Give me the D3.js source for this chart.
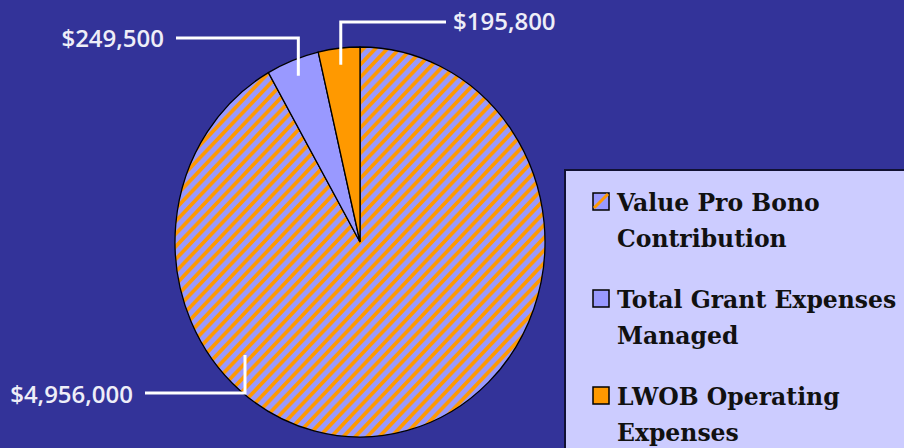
<!DOCTYPE html>
<html>
<head>
<meta charset="utf-8">
<script src="https://cdn.jsdelivr.net/npm/d3@7"></script>
<style>
  html, body { margin: 0; padding: 0; background: #333399; }
  svg { display: block; }
</style>
</head>
<body>
<div id="chart"></div>
<script>
// chart data
var categories = ["Value Pro Bono Contribution", "Total Grant Expenses Managed", "LWOB Operating Expenses"];
var legendLines = [["Value Pro Bono", "Contribution"], ["Total Grant Expenses", "Managed"], ["LWOB Operating", "Expenses"]];
var values = [4956000, 249500, 195800];
var valueLabels = ["$4,956,000", "$249,500", "$195,800"];

var width = 904, height = 448;
var cx = 360, cy = 242, r = 185, yScale = 195 / 185;

var svg = d3.select("#chart").append("svg")
    .attr("width", width)
    .attr("height", height);

svg.append("rect").attr("width", width).attr("height", height).attr("fill", "#333399");

// diagonal hatch used for the big slice
var hp = 12;
var defs = svg.append("defs");
var pat = defs.append("pattern")
    .attr("id", "hatch")
    .attr("patternUnits", "userSpaceOnUse")
    .attr("width", hp).attr("height", hp);
pat.append("rect").attr("width", hp).attr("height", hp).attr("fill", "#9999ff");
pat.append("path")
    .attr("d", "M-3,3 L3,-3 M0," + hp + " L" + hp + ",0 M" + (hp - 3) + "," + (hp + 3) + " L" + (hp + 3) + "," + (hp - 3))
    .attr("stroke", "#ff9900")
    .attr("stroke-width", 3.6);

var fills = ["url(#hatch)", "#9999ff", "#ff9900"];

var pie = d3.pie().sort(null).value(function (d) { return d; });
var arcs = pie(values);
var arc = d3.arc().innerRadius(0).outerRadius(r);

var g = svg.append("g")
    .attr("transform", "translate(" + cx + "," + cy + ") scale(1," + yScale + ")");

g.selectAll("path.slice")
  .data(arcs)
  .enter()
  .append("path")
    .attr("class", "slice")
    .attr("d", arc)
    .attr("fill", function (d, i) { return fills[i]; })
    .attr("stroke", "#000")
    .attr("stroke-width", 1.3)
    .attr("vector-effect", "non-scaling-stroke");

// label leader layout (angle override for the big slice, where Excel moved it)
var labelLayout = [
  {angle: 227 * Math.PI / 180, rf: 0.85, elbowY: 393, endX: 145, anchor: "end", tx: 133, ty: 403},
  {angle: null, rf: 0.915, elbowY: 38, endX: 176, anchor: "end", tx: 164, ty: 47},
  {angle: null, rf: 0.915, elbowY: 22, endX: 446, anchor: "start", tx: 453, ty: 30}
];

arcs.forEach(function (d, i) {
  var L = labelLayout[i];
  var a = L.angle != null ? L.angle : (d.startAngle + d.endAngle) / 2;
  var px = cx + Math.sin(a) * r * L.rf;
  var py = cy - Math.cos(a) * r * L.rf * yScale;
  svg.append("path")
      .attr("d", "M" + px + "," + py + " L" + px + "," + L.elbowY + " L" + L.endX + "," + L.elbowY)
      .attr("fill", "none")
      .attr("stroke", "#ffffff")
      .attr("stroke-width", 3);
  svg.append("text")
      .attr("x", L.tx)
      .attr("y", L.ty)
      .attr("text-anchor", L.anchor)
      .attr("fill", "#eeeef8")
      .style("font-family", "'Open Sans', sans-serif")
      .style("font-weight", 600)
      .style("font-size", "24px")
      .text(valueLabels[i]);
});

// legend
var legend = svg.append("g");
legend.append("rect")
    .attr("x", 565).attr("y", 170)
    .attr("width", 400).attr("height", 320)
    .attr("fill", "#ccccff")
    .attr("stroke", "#111133")
    .attr("stroke-width", 2);

categories.forEach(function (c, i) {
  var base = 211 + i * 97;
  var sw = legend.append("g");
  sw.append("rect")
      .attr("x", 593).attr("y", base - 18)
      .attr("width", 16).attr("height", 17)
      .attr("fill", i === 0 ? "#9999ff" : fills[i])
      .attr("stroke", "#000").attr("stroke-width", 1.5);
  if (i === 0) {
    sw.append("path")
        .attr("d", "M594," + (base - 3) + " L608," + (base - 17))
        .attr("stroke", "#ff9900").attr("stroke-width", 3);
  }
  legend.append("text")
      .attr("x", 617)
      .attr("y", base)
      .attr("fill", "#111111")
      .style("font-family", "'DejaVu Serif', serif")
      .style("font-weight", "bold")
      .style("font-size", "23.5px")
      .selectAll("tspan")
      .data(legendLines[i])
      .enter()
      .append("tspan")
        .attr("x", 617)
        .attr("dy", function (t, j) { return j === 0 ? 0 : 36; })
        .text(function (t) { return t; });
});
</script>
</body>
</html>
